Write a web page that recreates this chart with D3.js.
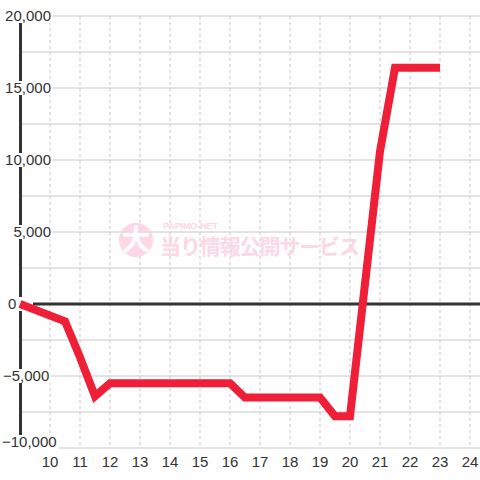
<!DOCTYPE html>
<html>
<head>
<meta charset="utf-8">
<script src="https://cdn.jsdelivr.net/npm/d3@7"></script>
<style>
  body { margin: 0; background: #fdfefd; }
  svg { display: block; }
</style>
</head>
<body>
<svg id="chart" width="480" height="480"></svg>
<script>
// game number vs. balance
const games = [9, 10.5, 11, 11.5, 12, 16, 16.5, 19, 19.5, 20, 21, 21.5, 23];
const balance = [0, -1200, -3700, -6400, -5500, -5500, -6500, -6500, -7800, -7800, 10600, 16400, 16400];
const yTicks = [-10000, -5000, 0, 5000, 10000, 15000, 20000];
const yGrid = [-10000, -7500, -5000, -2500, 2500, 5000, 7500, 10000, 12500, 15000, 17500, 20000];
const xTicks = [10, 11, 12, 13, 14, 15, 16, 17, 18, 19, 20, 21, 22, 23, 24];

const width = 480, height = 480;
let svg = d3.select("#chart");

let x = d3.scaleLinear().domain([9, 24.333]).range([20, 480]);
let y = d3.scaleLinear().domain([-10000, 20000]).range([448, 16]);
let fmt = d3.format(",");

// vertical dashed grid
svg.append("g")
    .selectAll("line")
    .data(xTicks)
    .join("line")
    .attr("x1", d => x(d)).attr("x2", d => x(d))
    .attr("y1", y(20000)).attr("y2", y(-10000))
    .attr("stroke", "#c8c8c8")
    .attr("stroke-dasharray", "3,3");

// horizontal grid
svg.append("g")
    .selectAll("line")
    .data(yGrid)
    .join("line")
    .attr("x1", x(9)).attr("x2", width)
    .attr("y1", d => y(d)).attr("y2", d => y(d))
    .attr("stroke", "#c8c8c8");

// watermark
let wm = svg.append("g").attr("opacity", 0.9);
wm.append("circle").attr("cx", 136).attr("cy", 240).attr("r", 17).attr("fill", "#fcd3e3");
wm.append("text").attr("x", 136).attr("y", 250)
    .attr("text-anchor", "middle")
    .attr("font-family", "Noto Sans CJK JP").attr("font-weight", "bold")
    .attr("font-size", 28).attr("fill", "#fdfefd")
    .text("大");
wm.append("text").attr("x", 163).attr("y", 229)
    .attr("font-family", "Liberation Sans").attr("font-weight", "bold")
    .attr("font-size", 9).attr("fill", "#fcd3e3")
    .attr("textLength", 55)
    .text("PAPIMO-NET");
wm.append("text").attr("x", 160).attr("y", 254)
    .attr("font-family", "Noto Sans CJK JP").attr("font-weight", "bold")
    .attr("font-size", 21).attr("fill", "#fcd3e3")
    .attr("textLength", 200)
    .text("当り情報公開サービス");

// zero line
svg.append("line")
    .attr("x1", 33).attr("x2", width)
    .attr("y1", y(0)).attr("y2", y(0))
    .attr("stroke", "#333").attr("stroke-width", 3);

// y axis line
svg.append("line")
    .attr("x1", 20.5).attr("x2", 20.5)
    .attr("y1", y(20000)).attr("y2", y(-10000))
    .attr("stroke", "#333").attr("stroke-width", 3);

// y labels with backgrounds (label placement as in the original chart)
let yl = svg.append("g")
    .attr("font-family", "Liberation Sans, Arial, sans-serif")
    .attr("font-size", 15)
    .attr("fill", "#333");

yTicks.forEach(v => {
    let cy = v === -10000 ? y(v) - 6 : y(v);
    let t = yl.append("text")
        .attr("y", cy)
        .attr("dy", "0.35em")
        .text(fmt(v));
    if (v > 0) {
        t.attr("x", 51).attr("text-anchor", "end");
    } else if (v === 0) {
        t.attr("x", 8);
    } else if (v === -5000) {
        t.attr("x", 3);
    } else {
        t.attr("x", 2);
    }
    let bb = t.node().getBBox();
    let left = bb.x - 2;
    let right = v === 0 ? 33 : bb.x + bb.width + 2;
    yl.insert("rect", "text")
        .attr("x", left)
        .attr("y", cy - 7)
        .attr("width", right - left)
        .attr("height", 14)
        .attr("fill", "#fdfefd");
});

// data line, on top of everything
let line = d3.line()
    .x((d, i) => x(games[i]))
    .y(d => y(d));

svg.append("path")
    .datum(balance)
    .attr("d", line)
    .attr("fill", "none")
    .attr("stroke", "#ee1f36")
    .attr("stroke-width", 8)
    .attr("stroke-linejoin", "miter");

// x labels
svg.append("g")
    .attr("font-family", "Liberation Sans, Arial, sans-serif")
    .attr("font-size", 15)
    .attr("fill", "#333")
    .selectAll("text")
    .data(xTicks)
    .join("text")
    .attr("x", d => x(d))
    .attr("y", 467)
    .attr("text-anchor", "middle")
    .text(d => d);
</script>
</body>
</html>
